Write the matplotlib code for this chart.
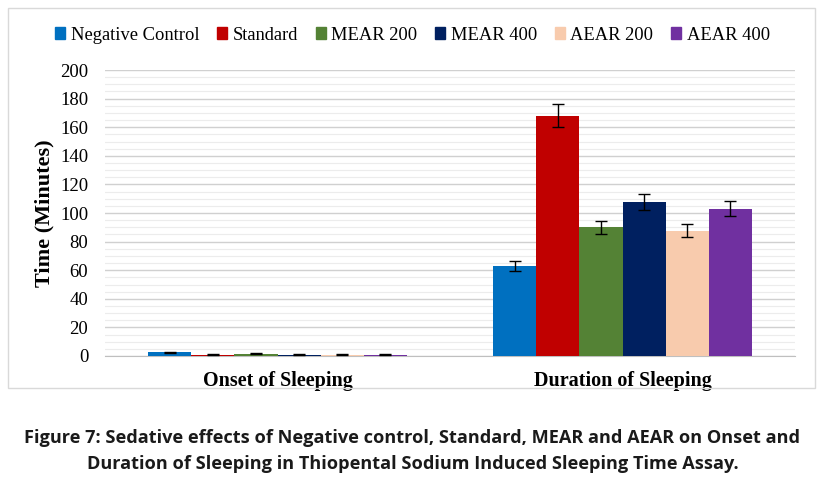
import matplotlib
matplotlib.use("Agg")
import matplotlib.pyplot as plt
import numpy as np
from matplotlib.patches import Rectangle
from matplotlib.ticker import MultipleLocator

categories = ["Onset of Sleeping", "Duration of Sleeping"]
series = ["Negative Control", "Standard", "MEAR 200", "MEAR 400", "AEAR 200", "AEAR 400"]
values = {
    "Negative Control": [2.5, 63],
    "Standard": [1.0, 168],
    "MEAR 200": [1.5, 90],
    "MEAR 400": [1.0, 107.5],
    "AEAR 200": [0.8, 87.5],
    "AEAR 400": [1.0, 103],
}
errors = {
    "Negative Control": [0.5, 3.5],
    "Standard": [0.2, 8],
    "MEAR 200": [0.3, 4.7],
    "MEAR 400": [0.3, 5.5],
    "AEAR 200": [0.3, 4.5],
    "AEAR 400": [0.3, 5.4],
}
colors = ["#0070C0", "#C00000", "#548235", "#002060", "#F8CBAD", "#7030A0"]
yticks = list(range(0, 201, 20))
caption = ("Figure 7: Sedative effects of Negative control, Standard, MEAR and AEAR on Onset and\n"
           "Duration of Sleeping in Thiopental Sodium Induced Sleeping Time Assay.")

serif = "Liberation Serif"

fig = plt.figure(figsize=(8.25, 4.86), dpi=100)
# chart frame
fig.patches.append(Rectangle((8/825, 1-388/486), (815-8)/825, (388-8)/486,
                             transform=fig.transFigure, fill=False,
                             edgecolor="#d9d9d9", linewidth=1))

ax = fig.add_axes([105/825, 1-356/486, (795-105)/825, (356-70)/486])
n = len(series)
w = 0.125
x = np.arange(len(categories))
for i, s in enumerate(series):
    pos = x + (i - (n-1)/2) * w
    ax.bar(pos, values[s], width=w, color=colors[i], label=s, zorder=3,
           yerr=errors[s], error_kw=dict(ecolor="black", elinewidth=1, capsize=4, capthick=1, zorder=4))

ax.set_xlim(-0.5, 1.5)
ax.set_ylim(0, 200)
ax.set_yticks(yticks)
ax.yaxis.set_minor_locator(MultipleLocator(5))
ax.grid(axis="y", which="major", color="#d0d0d0", linewidth=1, zorder=0)
ax.grid(axis="y", which="minor", color="#ececec", linewidth=0.8, zorder=0)
ax.set_axisbelow(True)
for sp in ["top", "right", "left"]:
    ax.spines[sp].set_visible(False)
ax.spines["bottom"].set_color("#bfbfbf")
ax.tick_params(axis="both", which="both", length=0)
ax.set_xticks(x)
ax.set_xticklabels(categories, fontfamily=serif, fontsize=14.5, fontweight="bold")
ax.tick_params(axis="x", pad=11)
ax.tick_params(axis="y", pad=12, labelfontfamily=serif, labelsize=13.5)
ax.set_ylabel("Time (Minutes)", fontfamily=serif, fontsize=16, fontweight="bold", labelpad=4)

handles = [Rectangle((0, 0), 1, 1, color=c) for c in colors]
fig.legend(handles, series, loc="center", bbox_to_anchor=(0.5, 1-35/486), ncol=6,
           frameon=False, prop=dict(family=serif, size=13.3), handlelength=0.55,
           handleheight=0.55, handletextpad=0.3, columnspacing=0.95)

fig.text(0.5, 1-451/486, caption, ha="center", va="center", fontfamily="Open Sans",
         fontweight="bold", fontsize=13.1, color="#1a1a1a", linespacing=1.6)

fig.savefig("out.png", dpi=100)
